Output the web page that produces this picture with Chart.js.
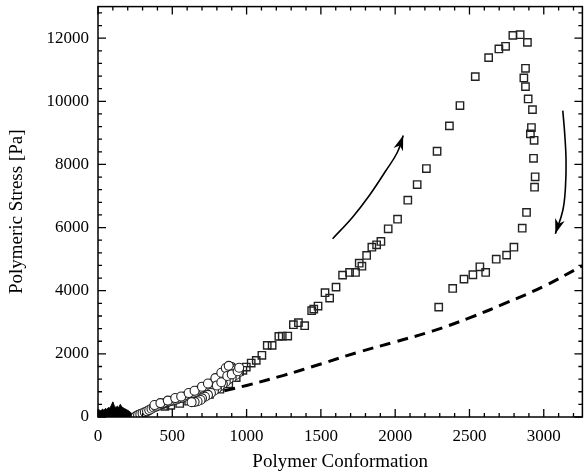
<!DOCTYPE html>
<html>
<head>
<meta charset="utf-8">
<script src="https://cdn.jsdelivr.net/npm/chart.js@4"></script>
<style>
  html, body { margin: 0; background: #fff; overflow: hidden; }
  #wrap { width: 585px; height: 476px; overflow: hidden; }
</style>
</head>
<body>
<div id="wrap"><canvas id="chart" width="589" height="476"></canvas></div>
<script>
// axis ticks
const xTickValues = [0, 500, 1000, 1500, 2000, 2500, 3000];
const yTickValues = [0, 2000, 4000, 6000, 8000, 10000, 12000];

// black filled region near origin
const massX = [0, 10, 20, 30, 40, 50, 60, 70, 80, 90, 100, 110, 120, 130, 140, 150, 160, 170, 180, 190, 200, 210, 220, 230, 240, 250, 260];
const massY = [180, 220, 190, 250, 210, 270, 240, 300, 280, 370, 480, 350, 300, 340, 300, 400, 320, 290, 260, 240, 210, 180, 140, 100, 60, 30, 0];

// open circles
const circleX = [255, 270, 285, 300, 315, 330, 345, 360, 375, 390, 405, 420, 435, 450, 465, 480, 495, 510, 525, 540, 555, 570, 585, 600, 615, 630, 645, 660, 675, 690, 705, 720, 735, 750, 765, 780, 795, 810, 825, 840, 855, 870, 885, 900, 915,
  380, 420, 470, 520, 560, 610, 650, 700, 740, 790, 830, 860, 880,
  930, 945, 925, 900, 880, 860, 840, 820, 800, 780, 760, 740, 720, 700, 690, 670, 650, 630, 800, 830, 870, 900, 940, 950];
const circleY = [20, 60, 90, 120, 150, 180, 220, 260, 300, 330, 360, 390, 410, 440, 470, 490, 510, 530, 550, 580, 600, 620, 650, 690, 720, 740, 770, 800, 840, 870, 900, 940, 980, 1020, 1060, 1100, 1150, 1210, 1270, 1340, 1420, 1500, 1560, 1580, 1520,
  380, 440, 520, 600, 650, 760, 830, 960, 1060, 1230, 1400, 1550, 1620,
  1480, 1400, 1330, 1250, 1200, 1120, 1050, 980, 900, 830, 760, 700, 640, 590, 540, 500, 480, 470, 1000, 1100, 1300, 1350, 1450, 1560];

// open squares
const squareX = [450, 490, 550, 610, 680, 750, 820, 880, 930, 953, 975, 998, 1031, 1065, 1103, 1139, 1172, 1217, 1240, 1277, 1315, 1349, 1391, 1438, 1452, 1481, 1528, 1559, 1602, 1646, 1693, 1733, 1758, 1776, 1808, 1843, 1875, 1904, 1953, 2016, 2085, 2148, 2210, 2282, 2365, 2436, 2539, 2629, 2698, 2743, 2792, 2841, 2890,
  2877, 2866, 2877, 2895, 2924, 2917, 2910, 2935, 2931, 2942, 2938, 2884, 2855, 2799, 2750, 2680, 2609, 2570, 2523, 2463, 2387, 2293];
const squareY = [340, 370, 430, 500, 600, 720, 880, 1050, 1250, 1446, 1480, 1582, 1709, 1794, 1953, 2269, 2269, 2554, 2563, 2563, 2924, 2987, 2892, 3367, 3418, 3513, 3937, 3766, 4114, 4494, 4579, 4579, 4873, 4778, 5117, 5380, 5456, 5560, 5962, 6266, 6867, 7364, 7870, 8418, 9222, 9864, 10782, 11383, 11658, 11741, 12089, 12111, 11867,
  11044, 10740, 10465, 10076, 9737, 9168, 8968, 8766, 8196, 7608, 7278, 6478, 5981, 5380, 5127, 5000, 4579, 4759, 4506, 4367, 4073, 3481];

// dashed curve
const dashX = [850, 1000, 1250, 1500, 1750, 2000, 2250, 2500, 2750, 3000, 3260];
const dashY = [830, 1000, 1320, 1680, 2050, 2380, 2720, 3140, 3620, 4140, 4790];

// arrows
const arrowUpX = [1579, 1713, 1826, 1938, 2015, 2054];
const arrowUpY = [5646, 6329, 7016, 7807, 8386, 8915];
const arrowDownX = [3128, 3141, 3150, 3146, 3128, 3078];
const arrowDownY = [9706, 8968, 8123, 7278, 6541, 5804];

const pts = (xs, ys) => xs.map((x, i) => ({ x: x, y: ys[i] }));
const serif = "'Liberation Serif', 'Times New Roman', serif";

const frameTicks = {
  id: 'frameTicks',
  afterDatasetsDraw(chart) {
    const ctx = chart.ctx;
    const a = chart.chartArea;
    const xs = chart.scales.x, ys = chart.scales.y;
    ctx.save();
    ctx.strokeStyle = '#000';
    ctx.lineWidth = 1.5;
    ctx.strokeRect(a.left, a.top, a.right - a.left, a.bottom - a.top);
    ctx.lineWidth = 1.3;
    ctx.beginPath();
    for (let v = 0; v <= xs.max; v += 100) {
      const p = xs.getPixelForValue(v);
      const len = v % 500 === 0 ? 8 : 4;
      ctx.moveTo(p, a.bottom); ctx.lineTo(p, a.bottom - len);
      ctx.moveTo(p, a.top); ctx.lineTo(p, a.top + len);
    }
    for (let v = 0; v <= ys.max; v += 400) {
      const p = ys.getPixelForValue(v);
      const len = v % 2000 === 0 ? 8 : 4;
      ctx.moveTo(a.left, p); ctx.lineTo(a.left + len, p);
      ctx.moveTo(a.right, p); ctx.lineTo(a.right - len, p);
    }
    ctx.stroke();

    // arrow heads
    chart.data.datasets.forEach((ds, i) => {
      if (!ds.arrowHead) return;
      const d = chart.getDatasetMeta(i).data;
      const tip = d[d.length - 1], prev = d[d.length - 2];
      const ang = Math.atan2(tip.y - prev.y, tip.x - prev.x);
      const L = 15, W = 5;
      const bx = tip.x - Math.cos(ang) * L, by = tip.y - Math.sin(ang) * L;
      ctx.fillStyle = '#000';
      ctx.beginPath();
      ctx.moveTo(tip.x, tip.y);
      ctx.lineTo(bx - Math.sin(ang) * W, by + Math.cos(ang) * W);
      ctx.lineTo(tip.x - Math.cos(ang) * L * 0.7, tip.y - Math.sin(ang) * L * 0.7);
      ctx.lineTo(bx + Math.sin(ang) * W, by - Math.cos(ang) * W);
      ctx.closePath();
      ctx.fill();
    });
    ctx.restore();
  }
};

const config = {
  type: 'scatter',
  data: {
    datasets: [
      {
        label: 'model',
        data: pts(dashX, dashY),
        showLine: true,
        borderColor: '#000',
        borderWidth: 3,
        borderDash: [11, 7],
        tension: 0.4,
        pointRadius: 0
      },
      {
        label: 'circles',
        data: pts(circleX, circleY),
        pointStyle: 'circle',
        pointRadius: 4.5,
        borderWidth: 1.1,
        borderColor: '#222',
        backgroundColor: '#fff'
      },
      {
        label: 'squares',
        data: pts(squareX, squareY),
        pointStyle: 'rect',
        pointRadius: 5.2,
        borderWidth: 1.4,
        borderColor: '#222',
        backgroundColor: 'rgba(255,255,255,0)'
      },
      {
        label: 'start',
        data: pts(massX, massY),
        showLine: true,
        fill: 'origin',
        borderColor: '#000',
        backgroundColor: '#000',
        borderWidth: 1,
        tension: 0,
        pointRadius: 0
      },
      {
        label: 'loading',
        data: pts(arrowUpX, arrowUpY),
        showLine: true,
        borderColor: '#000',
        borderWidth: 1.6,
        tension: 0.4,
        pointRadius: 0,
        arrowHead: true
      },
      {
        label: 'relaxation',
        data: pts(arrowDownX, arrowDownY),
        showLine: true,
        borderColor: '#000',
        borderWidth: 1.6,
        tension: 0.4,
        pointRadius: 0,
        arrowHead: true
      }
    ]
  },
  options: {
    responsive: false,
    animation: false,
    layout: { padding: { left: 0, top: 5, right: 1, bottom: 0 } },
    plugins: {
      legend: { display: false },
      tooltip: { enabled: false }
    },
    scales: {
      x: {
        type: 'linear',
        min: 0,
        max: 3260,
        afterBuildTicks: (s) => { s.ticks = xTickValues.map(v => ({ value: v })); },
        afterFit: (s) => { s.height = 59; s.paddingLeft = 0; s.paddingRight = 0; },
        grid: { display: false, drawTicks: false },
        border: { display: false },
        ticks: { color: '#000', padding: 9, maxRotation: 0, callback: (v) => String(v), font: { family: serif, size: 17 } },
        title: {
          display: true,
          text: 'Polymer Conformation',
          color: '#000',
          padding: { top: 0, bottom: 3 },
          font: { family: serif, size: 19 }
        }
      },
      y: {
        type: 'linear',
        min: 0,
        max: 13000,
        afterBuildTicks: (s) => { s.ticks = yTickValues.map(v => ({ value: v })); },
        afterFit: (s) => { s.width = 98; s.paddingTop = 0; s.paddingBottom = 0; },
        grid: { display: false, drawTicks: false },
        border: { display: false },
        ticks: { color: '#000', padding: 9, callback: (v) => String(v), font: { family: serif, size: 17 } },
        title: {
          display: true,
          text: 'Polymeric Stress [Pa]',
          color: '#000',
          padding: { top: 6, bottom: 0 },
          font: { family: serif, size: 19 }
        }
      }
    }
  },
  plugins: [frameTicks]
};

const ctx = document.getElementById('chart');
const myChart = new Chart(ctx, config);
</script>
</body>
</html>
